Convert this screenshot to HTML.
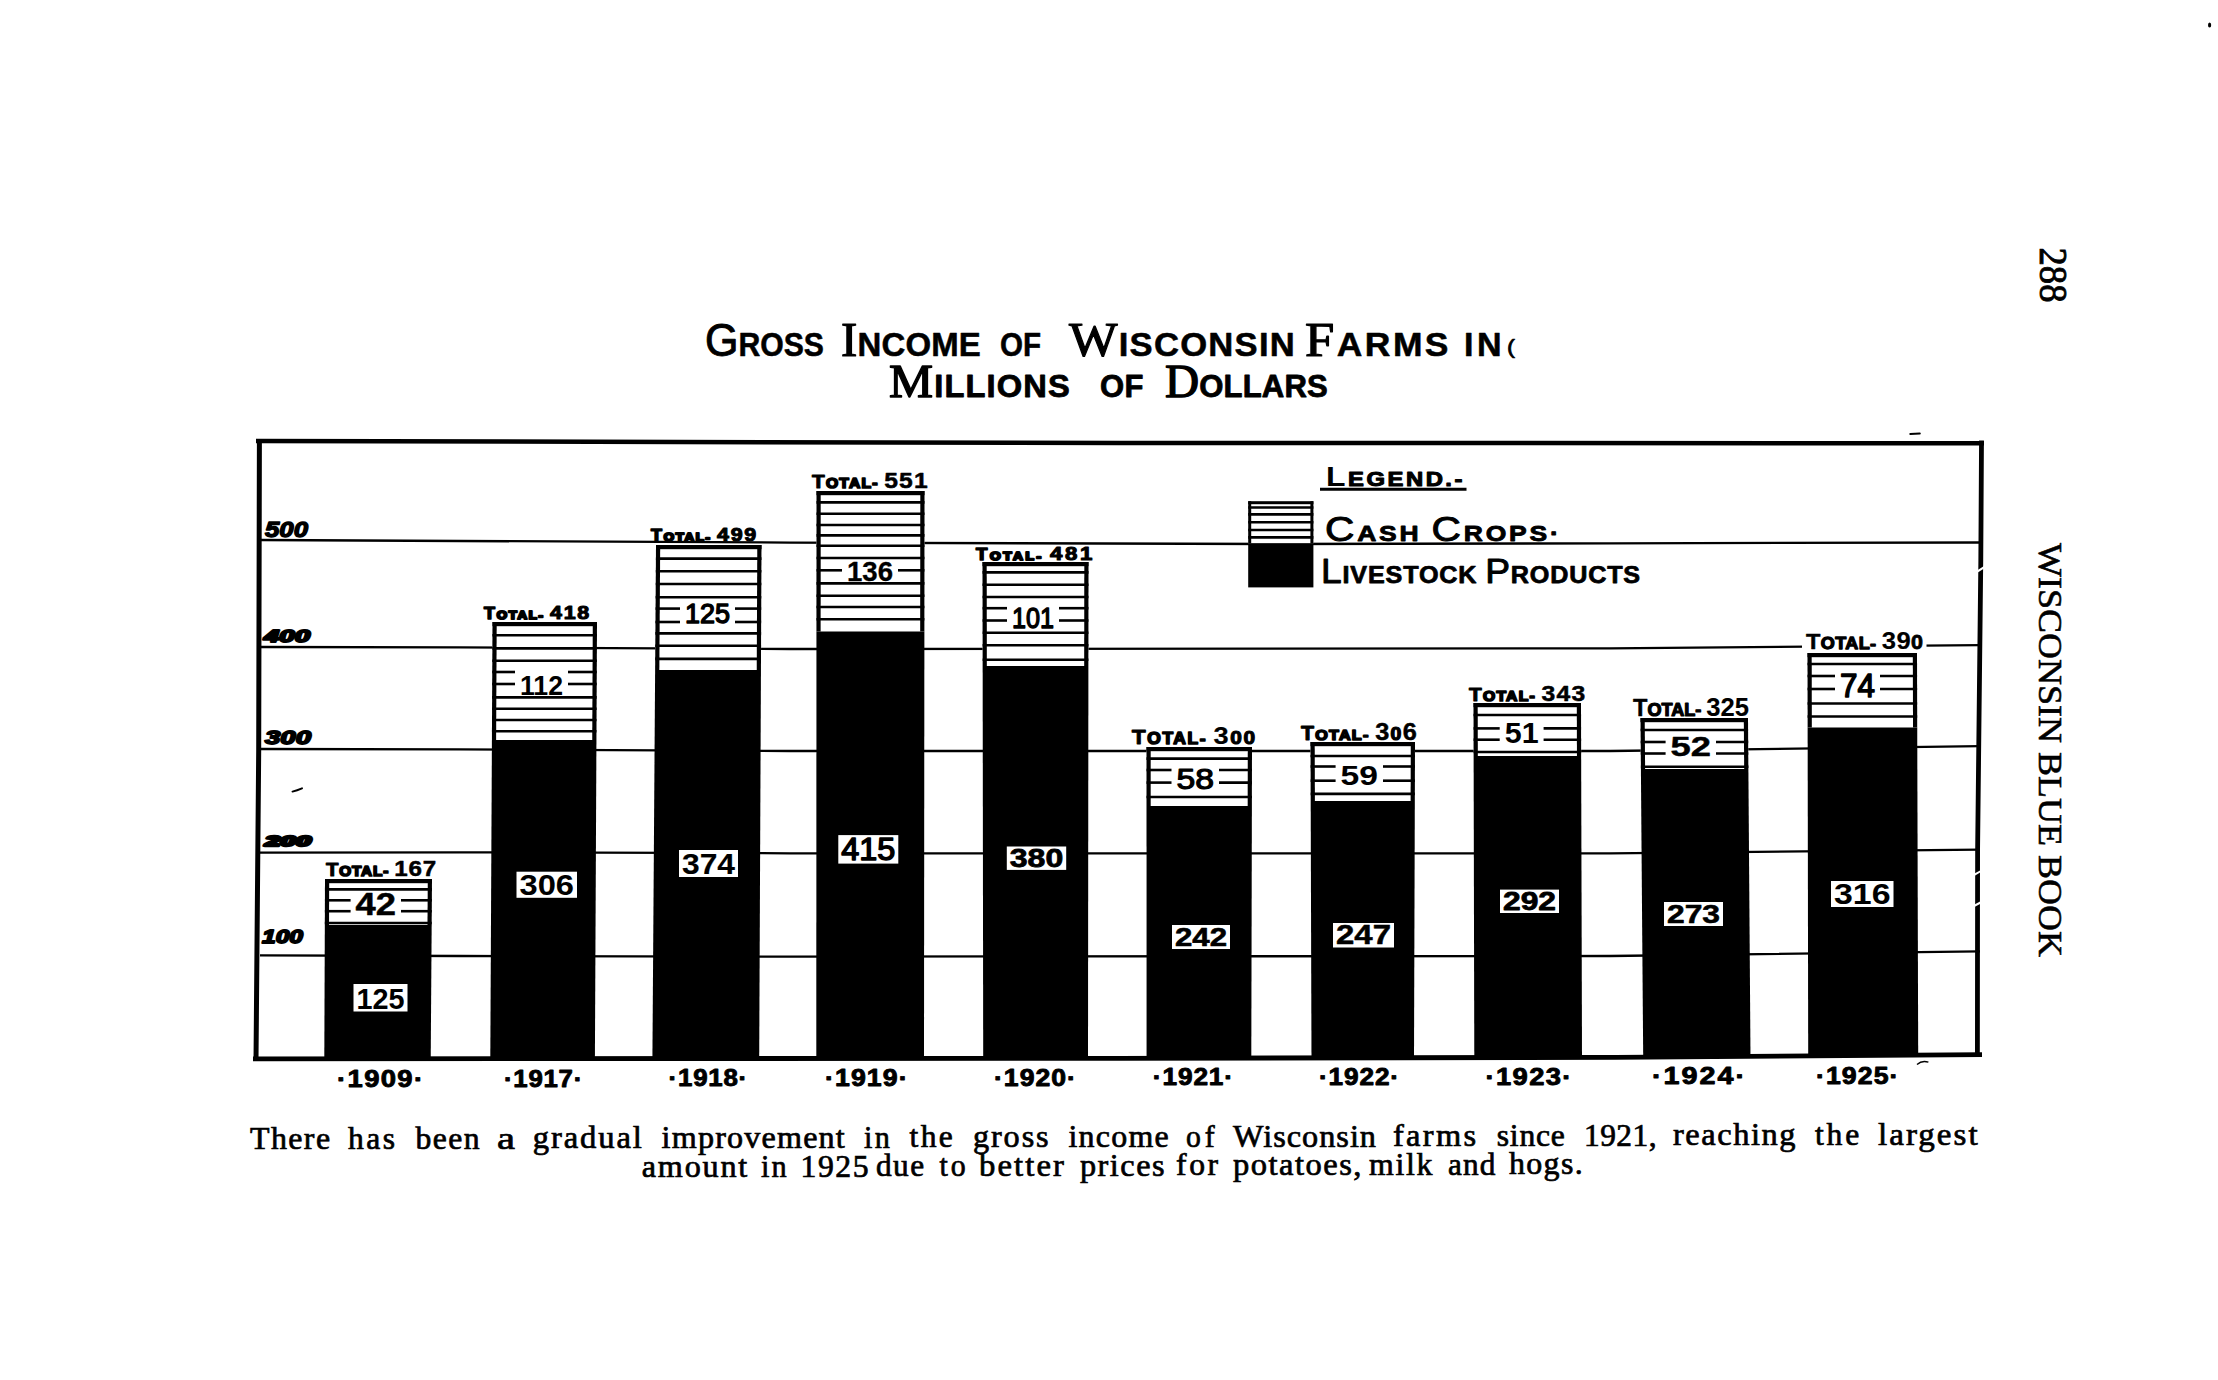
<!DOCTYPE html>
<html><head><meta charset="utf-8"><style>
html,body{margin:0;padding:0;background:#fff;}
body{width:2218px;height:1380px;overflow:hidden;position:relative;}
svg{position:absolute;left:0;top:0;}
</style></head><body>
<svg width="2218" height="1380" viewBox="0 0 2218 1380">
<rect x="0" y="0" width="2218" height="1380" fill="#fff"/>
<text x="1507" y="353.65" font-family='"Liberation Sans", sans-serif' font-style="normal" textLength="8.0" lengthAdjust="spacingAndGlyphs" stroke-linejoin="round" ><tspan font-size="19.33" font-weight="normal" stroke="#000" stroke-width="0.70">(</tspan></text>
<text x="705" y="356.01" font-family='"Liberation Sans", sans-serif' font-style="normal" textLength="119.0" lengthAdjust="spacingAndGlyphs" stroke-linejoin="round" ><tspan font-size="46.56" font-weight="normal" stroke="#000" stroke-width="0.97">G</tspan><tspan font-size="32.66" font-weight="bold" stroke="#000" stroke-width="0.53">ROSS</tspan></text>
<text x="841" y="355.89" font-family='"Liberation Sans", sans-serif' font-style="normal" letter-spacing="0.18" textLength="140.0" lengthAdjust="spacingAndGlyphs" stroke-linejoin="round" ><tspan font-family='"Liberation Serif", serif' font-size="48.52" font-weight="normal" stroke="#000" stroke-width="1.22">I</tspan><tspan font-size="32.66" font-weight="bold" stroke="#000" stroke-width="0.53">NCOME</tspan></text>
<text x="1000" y="356.23" font-family='"Liberation Sans", sans-serif' font-style="normal" textLength="41.0" lengthAdjust="spacingAndGlyphs" stroke-linejoin="round" ><tspan font-size="32.66" font-weight="bold" stroke="#000" stroke-width="0.53">OF</tspan></text>
<text x="1069" y="355.89" font-family='"Liberation Sans", sans-serif' font-style="normal" letter-spacing="1.17" textLength="227.0" lengthAdjust="spacingAndGlyphs" stroke-linejoin="round" ><tspan font-family='"Liberation Serif", serif' font-size="48.52" font-weight="normal" stroke="#000" stroke-width="1.22">W</tspan><tspan font-size="32.66" font-weight="bold" stroke="#000" stroke-width="0.53">ISCONSIN</tspan></text>
<text x="1305" y="355.89" font-family='"Liberation Sans", sans-serif' font-style="normal" letter-spacing="2.28" textLength="146.0" lengthAdjust="spacingAndGlyphs" stroke-linejoin="round" ><tspan font-family='"Liberation Serif", serif' font-size="48.52" font-weight="normal" stroke="#000" stroke-width="1.22">F</tspan><tspan font-size="32.66" font-weight="bold" stroke="#000" stroke-width="0.53">ARMS</tspan></text>
<text x="1464" y="356.23" font-family='"Liberation Sans", sans-serif' font-style="normal" letter-spacing="3.33" textLength="41.0" lengthAdjust="spacingAndGlyphs" stroke-linejoin="round" ><tspan font-size="32.66" font-weight="bold" stroke="#000" stroke-width="0.53">IN</tspan></text>
<text x="889" y="396.81" font-family='"Liberation Sans", sans-serif' font-style="normal" letter-spacing="1.08" textLength="182.0" lengthAdjust="spacingAndGlyphs" stroke-linejoin="round" ><tspan font-family='"Liberation Serif", serif' font-size="46.76" font-weight="normal" stroke="#000" stroke-width="1.37">M</tspan><tspan font-size="30.82" font-weight="bold" stroke="#000" stroke-width="0.80">ILLIONS</tspan></text>
<text x="1100" y="397.10" font-family='"Liberation Sans", sans-serif' font-style="normal" letter-spacing="0.48" textLength="44.0" lengthAdjust="spacingAndGlyphs" stroke-linejoin="round" ><tspan font-size="30.82" font-weight="bold" stroke="#000" stroke-width="0.80">OF</tspan></text>
<text x="1165" y="396.81" font-family='"Liberation Sans", sans-serif' font-style="normal" letter-spacing="0.17" textLength="163.0" lengthAdjust="spacingAndGlyphs" stroke-linejoin="round" ><tspan font-family='"Liberation Serif", serif' font-size="46.76" font-weight="normal" stroke="#000" stroke-width="1.37">D</tspan><tspan font-size="30.82" font-weight="bold" stroke="#000" stroke-width="0.80">OLLARS</tspan></text>
<polyline fill="none" stroke="#000" stroke-width="2.3" points="260,540 790,542.6 1280,544 1610,543.3 1980,542.5"/>
<polyline fill="none" stroke="#000" stroke-width="2.3" points="260,647 460,647.3 790,649 1610,648.4 1980,645.2"/>
<polyline fill="none" stroke="#000" stroke-width="2.3" points="260,749 460,749.3 790,751 1610,751 1980,746.2"/>
<polyline fill="none" stroke="#000" stroke-width="2.3" points="260,852.7 460,852.3 790,853.3 1610,853.3 1980,849.6"/>
<polyline fill="none" stroke="#000" stroke-width="2.3" points="260,955.3 460,956 790,956.6 1610,956 1980,951.3"/>
<text x="265" y="536.92" font-family='"Liberation Sans", sans-serif' font-style="italic" textLength="43.0" lengthAdjust="spacingAndGlyphs" stroke-linejoin="round" ><tspan font-size="22.16" font-weight="bold" stroke="#000" stroke-width="1.36">500</tspan></text>
<text x="264" y="642.47" font-family='"Liberation Sans", sans-serif' font-style="italic" textLength="46.0" lengthAdjust="spacingAndGlyphs" stroke-linejoin="round" ><tspan font-size="17.37" font-weight="bold" stroke="#000" stroke-width="2.06">400</tspan></text>
<text x="265" y="744.10" font-family='"Liberation Sans", sans-serif' font-style="italic" textLength="46.0" lengthAdjust="spacingAndGlyphs" stroke-linejoin="round" ><tspan font-size="19.21" font-weight="bold" stroke="#000" stroke-width="1.79">300</tspan></text>
<text x="265" y="845.77" font-family='"Liberation Sans", sans-serif' font-style="italic" textLength="46.0" lengthAdjust="spacingAndGlyphs" stroke-linejoin="round" ><tspan font-size="14.61" font-weight="bold" stroke="#000" stroke-width="2.47">200</tspan></text>
<text x="262" y="943.10" font-family='"Liberation Sans", sans-serif' font-style="italic" textLength="41.0" lengthAdjust="spacingAndGlyphs" stroke-linejoin="round" ><tspan font-size="19.21" font-weight="bold" stroke="#000" stroke-width="1.79">100</tspan></text>
<polygon fill="#fff" points="325.00,879.00 432.00,879.00 431.67,925.00 324.82,925.00"/>
<polygon fill="#000" points="324.82,925.00 431.67,925.00 430.70,1059.73 324.30,1059.73"/>
<rect x="325" y="879" width="107" height="4.2" fill="#000"/>
<polygon fill="#000" points="325.00,879.00 329.20,879.00 329.02,925.00 324.82,925.00"/>
<polygon fill="#000" points="427.80,879.00 432.00,879.00 431.67,925.00 427.47,925.00"/>
<line x1="324.9597183881509" y1="889.4" x2="431.9251912922803" y2="889.4" stroke="#000" stroke-width="2.6"/>
<line x1="324.8295777960232" y1="923" x2="431.68350162118594" y2="923" stroke="#000" stroke-width="2.6"/>
<line x1="324.9175001603476" y1="900.3" x2="350.6" y2="900.3" stroke="#000" stroke-width="2.6"/>
<line x1="401" y1="900.3" x2="431.8467860120741" y2="900.3" stroke="#000" stroke-width="2.6"/>
<line x1="324.8752819325442" y1="911.2" x2="350.6" y2="911.2" stroke="#000" stroke-width="2.6"/>
<line x1="401" y1="911.2" x2="431.76838073186786" y2="911.2" stroke="#000" stroke-width="2.6"/>
<text x="355.6" y="915.15" font-family='"Liberation Sans", sans-serif' font-style="normal" textLength="40.4" lengthAdjust="spacingAndGlyphs" stroke-linejoin="round" ><tspan font-size="30.82" font-weight="bold" stroke="#000" stroke-width="0.50">42</tspan></text>
<text x="326" y="876.14" font-family='"Liberation Sans", sans-serif' font-style="normal" letter-spacing="0.79" textLength="111.0" lengthAdjust="spacingAndGlyphs" stroke-linejoin="round" ><tspan font-size="18.98" font-weight="bold" stroke="#000" stroke-width="1.03">T</tspan><tspan font-size="14.27" font-weight="bold" stroke="#000" stroke-width="1.72">OTAL</tspan><tspan font-size="14.27" font-weight="bold" stroke="#000" stroke-width="1.72">- </tspan><tspan font-size="22.52" font-weight="bold" stroke="#000" stroke-width="0.51">1</tspan><tspan font-size="22.52" font-weight="bold" stroke="#000" stroke-width="0.51">6</tspan><tspan font-size="22.52" font-weight="bold" stroke="#000" stroke-width="0.51">7</tspan></text>
<rect x="353.5" y="984" width="54.0" height="27.5" fill="#fff"/>
<text x="356.5" y="1008.68" font-family='"Liberation Sans", sans-serif' font-style="normal" textLength="48.0" lengthAdjust="spacingAndGlyphs" stroke-linejoin="round" ><tspan font-size="29.90" font-weight="bold" stroke="#000" stroke-width="0.04">125</tspan></text>
<polygon fill="#fff" points="492.50,622.00 597.00,622.00 596.43,740.00 491.91,740.00"/>
<polygon fill="#000" points="491.91,740.00 596.43,740.00 594.90,1059.63 490.30,1059.63"/>
<rect x="492.5" y="622" width="104.5" height="4.2" fill="#000"/>
<polygon fill="#000" points="492.50,622.00 496.70,622.00 496.11,740.00 491.91,740.00"/>
<polygon fill="#000" points="592.80,622.00 597.00,622.00 596.43,740.00 592.23,740.00"/>
<line x1="492.4336428397341" y1="635.2" x2="596.9366590742916" y2="635.2" stroke="#000" stroke-width="2.6"/>
<line x1="492.3672856794681" y1="648.4" x2="596.8733181485833" y2="648.4" stroke="#000" stroke-width="2.6"/>
<line x1="492.30545287103854" y1="660.7" x2="596.814295922355" y2="660.7" stroke="#000" stroke-width="2.6"/>
<line x1="492.1209598572689" y1="697.4" x2="596.6381889546658" y2="697.4" stroke="#000" stroke-width="2.6"/>
<line x1="492.0641541064352" y1="708.7" x2="596.5839652834154" y2="708.7" stroke="#000" stroke-width="2.6"/>
<line x1="492.0073483556015" y1="720" x2="596.529741612165" y2="720" stroke="#000" stroke-width="2.6"/>
<line x1="491.95054260476775" y1="731.3" x2="596.4755179409146" y2="731.3" stroke="#000" stroke-width="2.6"/>
<line x1="492.24864712020485" y1="672" x2="515" y2="672" stroke="#000" stroke-width="2.6"/>
<line x1="568" y1="672" x2="596.7600722511046" y2="672" stroke="#000" stroke-width="2.6"/>
<line x1="492.188322429054" y1="684" x2="515" y2="684" stroke="#000" stroke-width="2.6"/>
<line x1="568" y1="684" x2="596.7024895913697" y2="684" stroke="#000" stroke-width="2.6"/>
<text x="520" y="694.98" font-family='"Liberation Sans", sans-serif' font-style="normal" textLength="43.0" lengthAdjust="spacingAndGlyphs" stroke-linejoin="round" ><tspan font-size="28.54" font-weight="bold" stroke="#000" stroke-width="0.03">112</tspan></text>
<text x="484" y="618.95" font-family='"Liberation Sans", sans-serif' font-style="normal" letter-spacing="1.51" textLength="107.0" lengthAdjust="spacingAndGlyphs" stroke-linejoin="round" ><tspan font-size="15.74" font-weight="bold" stroke="#000" stroke-width="1.50">T</tspan><tspan font-size="11.62" font-weight="bold" stroke="#000" stroke-width="2.10">OTAL</tspan><tspan font-size="11.62" font-weight="bold" stroke="#000" stroke-width="2.10">- </tspan><tspan font-size="18.83" font-weight="bold" stroke="#000" stroke-width="1.05">4</tspan><tspan font-size="18.83" font-weight="bold" stroke="#000" stroke-width="1.05">1</tspan><tspan font-size="18.83" font-weight="bold" stroke="#000" stroke-width="1.05">8</tspan></text>
<rect x="516.5" y="871.7" width="60.5" height="26.09999999999991" fill="#fff"/>
<text x="519.5" y="894.98" font-family='"Liberation Sans", sans-serif' font-style="normal" textLength="54.5" lengthAdjust="spacingAndGlyphs" stroke-linejoin="round" ><tspan font-size="29.89" font-weight="bold" stroke="#000" stroke-width="0.04">306</tspan></text>
<polygon fill="#fff" points="656.00,545.00 761.50,545.00 760.94,670.00 655.13,670.00"/>
<polygon fill="#000" points="655.13,670.00 760.94,670.00 759.20,1059.54 652.40,1059.54"/>
<rect x="656" y="545" width="105.5" height="4.2" fill="#000"/>
<polygon fill="#000" points="656.00,545.00 660.20,545.00 659.33,670.00 655.13,670.00"/>
<polygon fill="#000" points="757.30,545.00 761.50,545.00 760.94,670.00 756.74,670.00"/>
<line x1="655.9048465242024" y1="558.6" x2="761.4392075015737" y2="558.6" stroke="#000" stroke-width="2.6"/>
<line x1="655.8159899695974" y1="571.3" x2="761.3824380361316" y2="571.3" stroke="#000" stroke-width="2.6"/>
<line x1="655.7271334149922" y1="584" x2="761.3256685706895" y2="584" stroke="#000" stroke-width="2.6"/>
<line x1="655.6340789129255" y1="597.3" x2="761.266217083258" y2="597.3" stroke="#000" stroke-width="2.6"/>
<line x1="655.3815024073157" y1="633.4" x2="761.1048487602295" y2="633.4" stroke="#000" stroke-width="2.6"/>
<line x1="655.2954444843517" y1="645.7" x2="761.0498673094469" y2="645.7" stroke="#000" stroke-width="2.6"/>
<line x1="655.2030896401952" y1="658.9" x2="760.9908628256803" y2="658.9" stroke="#000" stroke-width="2.6"/>
<line x1="655.5550175690643" y1="608.6" x2="680" y2="608.6" stroke="#000" stroke-width="2.6"/>
<line x1="735" y1="608.6" x2="761.2157056691244" y2="608.6" stroke="#000" stroke-width="2.6"/>
<line x1="655.4612634090872" y1="622" x2="680" y2="622" stroke="#000" stroke-width="2.6"/>
<line x1="735" y1="622" x2="761.1558071780279" y2="622" stroke="#000" stroke-width="2.6"/>
<text x="685" y="623.31" font-family='"Liberation Sans", sans-serif' font-style="normal" textLength="45.0" lengthAdjust="spacingAndGlyphs" stroke-linejoin="round" ><tspan font-size="27.06" font-weight="normal" stroke="#000" stroke-width="1.38">125</tspan></text>
<text x="651" y="540.95" font-family='"Liberation Sans", sans-serif' font-style="normal" letter-spacing="1.51" textLength="107.0" lengthAdjust="spacingAndGlyphs" stroke-linejoin="round" ><tspan font-size="15.74" font-weight="bold" stroke="#000" stroke-width="1.50">T</tspan><tspan font-size="11.62" font-weight="bold" stroke="#000" stroke-width="2.10">OTAL</tspan><tspan font-size="11.62" font-weight="bold" stroke="#000" stroke-width="2.10">- </tspan><tspan font-size="18.83" font-weight="bold" stroke="#000" stroke-width="1.05">4</tspan><tspan font-size="18.83" font-weight="bold" stroke="#000" stroke-width="1.05">9</tspan><tspan font-size="18.83" font-weight="bold" stroke="#000" stroke-width="1.05">9</tspan></text>
<rect x="679" y="850" width="59" height="27" fill="#fff"/>
<text x="682" y="874.12" font-family='"Liberation Sans", sans-serif' font-style="normal" textLength="53.0" lengthAdjust="spacingAndGlyphs" stroke-linejoin="round" ><tspan font-size="29.05" font-weight="bold" stroke="#000" stroke-width="0.16">374</tspan></text>
<polygon fill="#fff" points="816.50,491.00 924.50,491.00 924.38,631.50 816.45,631.50"/>
<polygon fill="#000" points="816.45,631.50 924.38,631.50 924.00,1059.44 816.30,1059.44"/>
<rect x="816.5" y="491" width="108.0" height="4.2" fill="#000"/>
<polygon fill="#000" points="816.50,491.00 820.70,491.00 820.65,631.50 816.45,631.50"/>
<polygon fill="#000" points="920.30,491.00 924.50,491.00 924.38,631.50 920.18,631.50"/>
<line x1="816.4959890500148" y1="502.4" x2="924.489972625037" y2="502.4" stroke="#000" stroke-width="2.6"/>
<line x1="816.4920132838015" y1="513.7" x2="924.4800332095036" y2="513.7" stroke="#000" stroke-width="2.6"/>
<line x1="816.488037517588" y1="525" x2="924.4700937939702" y2="525" stroke="#000" stroke-width="2.6"/>
<line x1="816.4843784053209" y1="535.4" x2="924.4609460133023" y2="535.4" stroke="#000" stroke-width="2.6"/>
<line x1="816.4807192930538" y1="545.8" x2="924.4517982326344" y2="545.8" stroke="#000" stroke-width="2.6"/>
<line x1="816.4764268728942" y1="558" x2="924.4410671822354" y2="558" stroke="#000" stroke-width="2.6"/>
<line x1="816.467490194857" y1="583.4" x2="924.4187254871425" y2="583.4" stroke="#000" stroke-width="2.6"/>
<line x1="816.4631625909257" y1="595.7" x2="924.4079064773141" y2="595.7" stroke="#000" stroke-width="2.6"/>
<line x1="816.4591868247122" y1="607" x2="924.3979670617807" y2="607" stroke="#000" stroke-width="2.6"/>
<line x1="816.4548592207809" y1="619.3" x2="924.3871480519523" y2="619.3" stroke="#000" stroke-width="2.6"/>
<line x1="816.4720992689628" y1="570.3" x2="842" y2="570.3" stroke="#000" stroke-width="2.6"/>
<line x1="898" y1="570.3" x2="924.430248172407" y2="570.3" stroke="#000" stroke-width="2.6"/>
<text x="847" y="581.33" font-family='"Liberation Sans", sans-serif' font-style="normal" textLength="46.0" lengthAdjust="spacingAndGlyphs" stroke-linejoin="round" ><tspan font-size="27.86" font-weight="bold" stroke="#000" stroke-width="0.33">136</tspan></text>
<text x="812" y="488.14" font-family='"Liberation Sans", sans-serif' font-style="normal" letter-spacing="1.13" textLength="117.0" lengthAdjust="spacingAndGlyphs" stroke-linejoin="round" ><tspan font-size="18.98" font-weight="bold" stroke="#000" stroke-width="1.03">T</tspan><tspan font-size="14.27" font-weight="bold" stroke="#000" stroke-width="1.72">OTAL</tspan><tspan font-size="14.27" font-weight="bold" stroke="#000" stroke-width="1.72">- </tspan><tspan font-size="22.52" font-weight="bold" stroke="#000" stroke-width="0.51">5</tspan><tspan font-size="22.52" font-weight="bold" stroke="#000" stroke-width="0.51">5</tspan><tspan font-size="22.52" font-weight="bold" stroke="#000" stroke-width="0.51">1</tspan></text>
<rect x="838.3" y="835.1" width="60.0" height="28.5" fill="#fff"/>
<text x="841.3" y="860.05" font-family='"Liberation Sans", sans-serif' font-style="normal" textLength="54.0" lengthAdjust="spacingAndGlyphs" stroke-linejoin="round" ><tspan font-size="31.27" font-weight="normal" stroke="#000" stroke-width="1.49">415</tspan></text>
<polygon fill="#fff" points="982.50,562.00 1088.50,562.00 1088.40,666.00 982.65,666.00"/>
<polygon fill="#000" points="982.65,666.00 1088.40,666.00 1088.00,1059.35 983.20,1059.35"/>
<rect x="982.5" y="562" width="106.0" height="4.2" fill="#000"/>
<polygon fill="#000" points="982.50,562.00 986.70,562.00 986.85,666.00 982.65,666.00"/>
<polygon fill="#000" points="1084.30,562.00 1088.50,562.00 1088.40,666.00 1084.20,666.00"/>
<line x1="982.5146376165103" y1="572.4" x2="1088.4895445596355" y2="572.4" stroke="#000" stroke-width="2.6"/>
<line x1="982.5319494129599" y1="584.7" x2="1088.477178990743" y2="584.7" stroke="#000" stroke-width="2.6"/>
<line x1="982.5492612094095" y1="597" x2="1088.4648134218503" y2="597" stroke="#000" stroke-width="2.6"/>
<line x1="982.5995076430072" y1="632.7" x2="1088.4289231121377" y2="632.7" stroke="#000" stroke-width="2.6"/>
<line x1="982.6172416783945" y1="645.3" x2="1088.416255944004" y2="645.3" stroke="#000" stroke-width="2.6"/>
<line x1="982.6375091474088" y1="659.7" x2="1088.4017791804224" y2="659.7" stroke="#000" stroke-width="2.6"/>
<line x1="982.5650247964205" y1="608.2" x2="1007" y2="608.2" stroke="#000" stroke-width="2.6"/>
<line x1="1059" y1="608.2" x2="1088.4535537168424" y2="608.2" stroke="#000" stroke-width="2.6"/>
<line x1="982.5823365928701" y1="620.5" x2="1007" y2="620.5" stroke="#000" stroke-width="2.6"/>
<line x1="1059" y1="620.5" x2="1088.44118814795" y2="620.5" stroke="#000" stroke-width="2.6"/>
<text x="1012" y="628.33" font-family='"Liberation Sans", sans-serif' font-style="normal" textLength="42.0" lengthAdjust="spacingAndGlyphs" stroke-linejoin="round" ><tspan font-size="28.58" font-weight="normal" stroke="#000" stroke-width="1.34">101</tspan></text>
<text x="976" y="559.95" font-family='"Liberation Sans", sans-serif' font-style="normal" letter-spacing="2.18" textLength="119.0" lengthAdjust="spacingAndGlyphs" stroke-linejoin="round" ><tspan font-size="15.74" font-weight="bold" stroke="#000" stroke-width="1.50">T</tspan><tspan font-size="11.62" font-weight="bold" stroke="#000" stroke-width="2.10">OTAL</tspan><tspan font-size="11.62" font-weight="bold" stroke="#000" stroke-width="2.10">- </tspan><tspan font-size="18.83" font-weight="bold" stroke="#000" stroke-width="1.05">4</tspan><tspan font-size="18.83" font-weight="bold" stroke="#000" stroke-width="1.05">8</tspan><tspan font-size="18.83" font-weight="bold" stroke="#000" stroke-width="1.05">1</tspan></text>
<rect x="1006.8" y="846.5" width="59.40000000000009" height="23.399999999999977" fill="#fff"/>
<text x="1009.8" y="866.72" font-family='"Liberation Sans", sans-serif' font-style="normal" textLength="53.4" lengthAdjust="spacingAndGlyphs" stroke-linejoin="round" ><tspan font-size="24.92" font-weight="bold" stroke="#000" stroke-width="0.76">380</tspan></text>
<polygon fill="#fff" points="1146.50,747.00 1252.00,747.00 1251.87,806.00 1146.52,806.00"/>
<polygon fill="#000" points="1146.52,806.00 1251.87,806.00 1251.30,1059.14 1146.60,1059.14"/>
<rect x="1146.5" y="747" width="105.5" height="4.2" fill="#000"/>
<polygon fill="#000" points="1146.50,747.00 1150.70,747.00 1150.72,806.00 1146.52,806.00"/>
<polygon fill="#000" points="1247.80,747.00 1252.00,747.00 1251.87,806.00 1247.67,806.00"/>
<line x1="1146.5037162823585" y1="758.6" x2="1251.9739860234904" y2="758.6" stroke="#000" stroke-width="2.6"/>
<line x1="1146.5160184584417" y1="797" x2="1251.8878707909073" y2="797" stroke="#000" stroke-width="2.6"/>
<line x1="1146.5073684908832" y1="770" x2="1171.5" y2="770" stroke="#000" stroke-width="2.6"/>
<line x1="1219" y1="770" x2="1251.9484205638173" y2="770" stroke="#000" stroke-width="2.6"/>
<line x1="1146.5114051424105" y1="782.6" x2="1171.5" y2="782.6" stroke="#000" stroke-width="2.6"/>
<line x1="1219" y1="782.6" x2="1251.920164003126" y2="782.6" stroke="#000" stroke-width="2.6"/>
<text x="1176.5" y="789.41" font-family='"Liberation Sans", sans-serif' font-style="normal" textLength="37.5" lengthAdjust="spacingAndGlyphs" stroke-linejoin="round" ><tspan font-size="30.26" font-weight="normal" stroke="#000" stroke-width="1.19">58</tspan></text>
<text x="1131.7" y="744.24" font-family='"Liberation Sans", sans-serif' font-style="normal" letter-spacing="1.44" textLength="124.9" lengthAdjust="spacingAndGlyphs" stroke-linejoin="round" ><tspan font-size="20.60" font-weight="bold" stroke="#000" stroke-width="0.79">T</tspan><tspan font-size="15.59" font-weight="bold" stroke="#000" stroke-width="1.52">OTAL</tspan><tspan font-size="15.59" font-weight="bold" stroke="#000" stroke-width="1.52">- </tspan><tspan font-size="24.36" font-weight="bold" stroke="#000" stroke-width="0.24">3</tspan><tspan font-size="18.72" font-weight="bold" stroke="#000" stroke-width="1.07">0</tspan><tspan font-size="18.72" font-weight="bold" stroke="#000" stroke-width="1.07">0</tspan></text>
<rect x="1172" y="925" width="58" height="24" fill="#fff"/>
<text x="1175" y="945.90" font-family='"Liberation Sans", sans-serif' font-style="normal" textLength="52.0" lengthAdjust="spacingAndGlyphs" stroke-linejoin="round" ><tspan font-size="26.02" font-weight="bold" stroke="#000" stroke-width="0.60">242</tspan></text>
<polygon fill="#fff" points="1310.50,742.00 1415.00,742.00 1414.81,801.00 1310.69,801.00"/>
<polygon fill="#000" points="1310.69,801.00 1414.81,801.00 1414.00,1058.81 1311.50,1058.81"/>
<rect x="1310.5" y="742" width="104.5" height="4.2" fill="#000"/>
<polygon fill="#000" points="1310.50,742.00 1314.70,742.00 1314.89,801.00 1310.69,801.00"/>
<polygon fill="#000" points="1410.80,742.00 1415.00,742.00 1414.81,801.00 1410.61,801.00"/>
<line x1="1310.544190580647" y1="756" x2="1414.955809419353" y2="756" stroke="#000" stroke-width="2.6"/>
<line x1="1310.6638207953986" y1="793.9" x2="1414.8361792046014" y2="793.9" stroke="#000" stroke-width="2.6"/>
<line x1="1310.5773335161323" y1="766.5" x2="1335.6" y2="766.5" stroke="#000" stroke-width="2.6"/>
<line x1="1383" y1="766.5" x2="1414.9226664838677" y2="766.5" stroke="#000" stroke-width="2.6"/>
<line x1="1310.6221553907885" y1="780.7" x2="1335.6" y2="780.7" stroke="#000" stroke-width="2.6"/>
<line x1="1383" y1="780.7" x2="1414.8778446092115" y2="780.7" stroke="#000" stroke-width="2.6"/>
<text x="1340.6" y="785.36" font-family='"Liberation Sans", sans-serif' font-style="normal" textLength="37.4" lengthAdjust="spacingAndGlyphs" stroke-linejoin="round" ><tspan font-size="26.84" font-weight="bold" stroke="#000" stroke-width="0.08">59</tspan></text>
<text x="1301" y="740.17" font-family='"Liberation Sans", sans-serif' font-style="normal" letter-spacing="1.15" textLength="117.0" lengthAdjust="spacingAndGlyphs" stroke-linejoin="round" ><tspan font-size="19.47" font-weight="bold" stroke="#000" stroke-width="0.96">T</tspan><tspan font-size="14.67" font-weight="bold" stroke="#000" stroke-width="1.66">OTAL</tspan><tspan font-size="14.67" font-weight="bold" stroke="#000" stroke-width="1.66">- </tspan><tspan font-size="23.07" font-weight="bold" stroke="#000" stroke-width="0.43">3</tspan><tspan font-size="17.67" font-weight="bold" stroke="#000" stroke-width="1.22">0</tspan><tspan font-size="23.07" font-weight="bold" stroke="#000" stroke-width="0.43">6</tspan></text>
<rect x="1333" y="923" width="61" height="24.5" fill="#fff"/>
<text x="1336" y="944.47" font-family='"Liberation Sans", sans-serif' font-style="normal" textLength="55.0" lengthAdjust="spacingAndGlyphs" stroke-linejoin="round" ><tspan font-size="26.94" font-weight="bold" stroke="#000" stroke-width="0.47">247</tspan></text>
<polygon fill="#fff" points="1473.50,703.00 1581.00,703.00 1581.15,756.00 1473.62,756.00"/>
<polygon fill="#000" points="1473.62,756.00 1581.15,756.00 1582.00,1058.48 1474.30,1058.48"/>
<rect x="1473.5" y="703" width="107.5" height="4.2" fill="#000"/>
<polygon fill="#000" points="1473.50,703.00 1477.70,703.00 1477.82,756.00 1473.62,756.00"/>
<polygon fill="#000" points="1576.80,703.00 1581.00,703.00 1581.15,756.00 1576.95,756.00"/>
<line x1="1473.5270059459115" y1="715" x2="1581.0337574323892" y2="715" stroke="#000" stroke-width="2.6"/>
<line x1="1473.6102742791381" y1="752" x2="1581.1378428489227" y2="752" stroke="#000" stroke-width="2.6"/>
<line x1="1473.5571625855125" y1="728.4" x2="1499.7" y2="728.4" stroke="#000" stroke-width="2.6"/>
<line x1="1543.6" y1="728.4" x2="1581.0714532318905" y2="728.4" stroke="#000" stroke-width="2.6"/>
<line x1="1473.582593184579" y1="739.7" x2="1499.7" y2="739.7" stroke="#000" stroke-width="2.6"/>
<line x1="1543.6" y1="739.7" x2="1581.1032414807237" y2="739.7" stroke="#000" stroke-width="2.6"/>
<text x="1504.7" y="742.59" font-family='"Liberation Sans", sans-serif' font-style="normal" textLength="33.9" lengthAdjust="spacingAndGlyphs" stroke-linejoin="round" ><tspan font-size="28.68" font-weight="bold" stroke="#000" stroke-width="0.01">51</tspan></text>
<text x="1469" y="701.14" font-family='"Liberation Sans", sans-serif' font-style="normal" letter-spacing="1.16" textLength="117.6" lengthAdjust="spacingAndGlyphs" stroke-linejoin="round" ><tspan font-size="18.98" font-weight="bold" stroke="#000" stroke-width="1.03">T</tspan><tspan font-size="14.27" font-weight="bold" stroke="#000" stroke-width="1.72">OTAL</tspan><tspan font-size="14.27" font-weight="bold" stroke="#000" stroke-width="1.72">- </tspan><tspan font-size="22.52" font-weight="bold" stroke="#000" stroke-width="0.51">3</tspan><tspan font-size="22.52" font-weight="bold" stroke="#000" stroke-width="0.51">4</tspan><tspan font-size="22.52" font-weight="bold" stroke="#000" stroke-width="0.51">3</tspan></text>
<rect x="1500" y="889.6" width="59" height="23.399999999999977" fill="#fff"/>
<text x="1503" y="909.82" font-family='"Liberation Sans", sans-serif' font-style="normal" textLength="53.0" lengthAdjust="spacingAndGlyphs" stroke-linejoin="round" ><tspan font-size="24.92" font-weight="bold" stroke="#000" stroke-width="0.76">292</tspan></text>
<polygon fill="#fff" points="1640.50,718.00 1748.00,718.00 1748.38,769.00 1640.91,769.00"/>
<polygon fill="#000" points="1640.91,769.00 1748.38,769.00 1750.50,1057.72 1643.20,1057.72"/>
<rect x="1640.5" y="718" width="107.5" height="4.2" fill="#000"/>
<polygon fill="#000" points="1640.50,718.00 1644.70,718.00 1645.11,769.00 1640.91,769.00"/>
<polygon fill="#000" points="1743.80,718.00 1748.00,718.00 1748.38,769.00 1744.18,769.00"/>
<line x1="1640.5953735127716" y1="730" x2="1748.0883088081218" y2="730" stroke="#000" stroke-width="2.6"/>
<line x1="1640.887057505998" y1="766.7" x2="1748.358386579628" y2="766.7" stroke="#000" stroke-width="2.6"/>
<line x1="1640.6907470255433" y1="742" x2="1665.6" y2="742" stroke="#000" stroke-width="2.6"/>
<line x1="1716" y1="742" x2="1748.1766176162437" y2="742" stroke="#000" stroke-width="2.6"/>
<line x1="1640.7821466419493" y1="753.5" x2="1665.6" y2="753.5" stroke="#000" stroke-width="2.6"/>
<line x1="1716" y1="753.5" x2="1748.2612468906939" y2="753.5" stroke="#000" stroke-width="2.6"/>
<text x="1670.6" y="755.77" font-family='"Liberation Sans", sans-serif' font-style="normal" textLength="40.4" lengthAdjust="spacingAndGlyphs" stroke-linejoin="round" ><tspan font-size="27.68" font-weight="bold" stroke="#000" stroke-width="0.46">52</tspan></text>
<text x="1633" y="716.10" font-family='"Liberation Sans", sans-serif' font-style="normal" letter-spacing="0.00" textLength="116.0" lengthAdjust="spacingAndGlyphs" stroke-linejoin="round" ><tspan font-size="23.36" font-weight="bold" stroke="#000" stroke-width="0.39">T</tspan><tspan font-size="17.85" font-weight="bold" stroke="#000" stroke-width="1.19">OTAL</tspan><tspan font-size="17.85" font-weight="bold" stroke="#000" stroke-width="1.19">- </tspan><tspan font-size="25.31" font-weight="bold" stroke="#000" stroke-width="0.10">3</tspan><tspan font-size="25.31" font-weight="bold" stroke="#000" stroke-width="0.10">2</tspan><tspan font-size="25.31" font-weight="bold" stroke="#000" stroke-width="0.10">5</tspan></text>
<rect x="1664" y="902" width="59" height="24" fill="#fff"/>
<text x="1667" y="922.90" font-family='"Liberation Sans", sans-serif' font-style="normal" textLength="53.0" lengthAdjust="spacingAndGlyphs" stroke-linejoin="round" ><tspan font-size="26.02" font-weight="bold" stroke="#000" stroke-width="0.60">273</tspan></text>
<polygon fill="#fff" points="1807.50,653.00 1917.00,653.00 1917.22,727.50 1807.63,727.50"/>
<polygon fill="#000" points="1807.63,727.50 1917.22,727.50 1918.20,1056.48 1808.20,1056.48"/>
<rect x="1807.5" y="653" width="109.5" height="4.2" fill="#000"/>
<polygon fill="#000" points="1807.50,653.00 1811.70,653.00 1811.83,727.50 1807.63,727.50"/>
<polygon fill="#000" points="1912.80,653.00 1917.00,653.00 1917.22,727.50 1913.02,727.50"/>
<line x1="1807.5190839224251" y1="664" x2="1917.0327152955858" y2="664" stroke="#000" stroke-width="2.6"/>
<line x1="1807.5876125529517" y1="703.5" x2="1917.150192947917" y2="703.5" stroke="#000" stroke-width="2.6"/>
<line x1="1807.610166279454" y1="716.5" x2="1917.188856479064" y2="716.5" stroke="#000" stroke-width="2.6"/>
<line x1="1807.5399027468889" y1="676" x2="1835" y2="676" stroke="#000" stroke-width="2.6"/>
<line x1="1880" y1="676" x2="1917.0684047089524" y2="676" stroke="#000" stroke-width="2.6"/>
<line x1="1807.5624564733912" y1="689" x2="1835" y2="689" stroke="#000" stroke-width="2.6"/>
<line x1="1880" y1="689" x2="1917.1070682400991" y2="689" stroke="#000" stroke-width="2.6"/>
<text x="1840" y="697.26" font-family='"Liberation Sans", sans-serif' font-style="normal" textLength="35.0" lengthAdjust="spacingAndGlyphs" stroke-linejoin="round" ><tspan font-size="33.45" font-weight="normal" stroke="#000" stroke-width="1.49">74</tspan></text>
<rect x="1802" y="641" width="124.5" height="9" fill="#fff"/>
<text x="1806" y="649.36" font-family='"Liberation Sans", sans-serif' font-style="normal" letter-spacing="0.39" textLength="117.5" lengthAdjust="spacingAndGlyphs" stroke-linejoin="round" ><tspan font-size="22.71" font-weight="bold" stroke="#000" stroke-width="0.48">T</tspan><tspan font-size="17.32" font-weight="bold" stroke="#000" stroke-width="1.27">OTAL</tspan><tspan font-size="17.32" font-weight="bold" stroke="#000" stroke-width="1.27">- </tspan><tspan font-size="24.63" font-weight="bold" stroke="#000" stroke-width="0.20">3</tspan><tspan font-size="24.63" font-weight="bold" stroke="#000" stroke-width="0.20">9</tspan><tspan font-size="20.69" font-weight="bold" stroke="#000" stroke-width="0.78">0</tspan></text>
<rect x="1831" y="881" width="62.5" height="26" fill="#fff"/>
<text x="1834" y="904.17" font-family='"Liberation Sans", sans-serif' font-style="normal" textLength="56.5" lengthAdjust="spacingAndGlyphs" stroke-linejoin="round" ><tspan font-size="29.71" font-weight="bold" stroke="#000" stroke-width="0.06">316</tspan></text>
<polyline fill="none" stroke="#000" stroke-width="4.5" points="256,441 1120,443 1984,443.2"/>
<polyline fill="none" stroke="#000" stroke-width="5" points="259.4,439 258.7,750 256,1061"/>
<polyline fill="none" stroke="#000" stroke-width="4.8" points="1981.5,440.5 1980.8,560 1977.6,850 1977.4,1057"/>
<polyline fill="none" stroke="#000" stroke-width="4.8" points="253,1058.8 1120,1058.3 1615,1057.3 1982,1054.6"/>
<polygon fill="#fff" points="1977,570.5 1984,566 1984,568.5 1977,573"/>
<polygon fill="#fff" points="1973.5,874 1981,870 1981,872 1973.5,876.5"/>
<polygon fill="#fff" points="1973.5,905 1981,901 1981,903.5 1973.5,907.5"/>
<ellipse cx="2209.6" cy="25" rx="1.6" ry="2.6" fill="#000"/>
<path d="M292.5,791.6 Q297,790.5 302,788.4" stroke="#000" stroke-width="2" fill="none" stroke-linecap="round"/>
<path d="M1917,1064.5 Q1922,1060 1928.4,1062.2" stroke="#000" stroke-width="1.4" fill="none"/>
<path d="M1910.3,434 L1919.8,433.6" stroke="#000" stroke-width="2" fill="none" stroke-linecap="round"/>
<text x="337" y="1087.06" font-family='"Liberation Sans", sans-serif' font-style="normal" letter-spacing="1.18" textLength="87.5" lengthAdjust="spacingAndGlyphs" stroke-linejoin="round" ><tspan font-size="23.44" font-weight="bold" stroke="#000" stroke-width="0.88">·</tspan><tspan font-size="23.44" font-weight="bold" stroke="#000" stroke-width="0.88">1909</tspan><tspan font-size="23.44" font-weight="bold" stroke="#000" stroke-width="0.88">·</tspan></text>
<text x="504" y="1086.73" font-family='"Liberation Sans", sans-serif' font-style="normal" letter-spacing="0.67" textLength="79.0" lengthAdjust="spacingAndGlyphs" stroke-linejoin="round" ><tspan font-size="23.44" font-weight="bold" stroke="#000" stroke-width="0.88">·</tspan><tspan font-size="23.44" font-weight="bold" stroke="#000" stroke-width="0.88">1917</tspan><tspan font-size="23.44" font-weight="bold" stroke="#000" stroke-width="0.88">·</tspan></text>
<text x="668.6" y="1086.39" font-family='"Liberation Sans", sans-serif' font-style="normal" letter-spacing="0.70" textLength="79.4" lengthAdjust="spacingAndGlyphs" stroke-linejoin="round" ><tspan font-size="23.44" font-weight="bold" stroke="#000" stroke-width="0.88">·</tspan><tspan font-size="23.44" font-weight="bold" stroke="#000" stroke-width="0.88">1918</tspan><tspan font-size="23.44" font-weight="bold" stroke="#000" stroke-width="0.88">·</tspan></text>
<text x="825" y="1086.06" font-family='"Liberation Sans", sans-serif' font-style="normal" letter-spacing="0.96" textLength="83.7" lengthAdjust="spacingAndGlyphs" stroke-linejoin="round" ><tspan font-size="23.44" font-weight="bold" stroke="#000" stroke-width="0.88">·</tspan><tspan font-size="23.44" font-weight="bold" stroke="#000" stroke-width="0.88">1919</tspan><tspan font-size="23.44" font-weight="bold" stroke="#000" stroke-width="0.88">·</tspan></text>
<text x="994" y="1085.73" font-family='"Liberation Sans", sans-serif' font-style="normal" letter-spacing="0.91" textLength="83.0" lengthAdjust="spacingAndGlyphs" stroke-linejoin="round" ><tspan font-size="23.44" font-weight="bold" stroke="#000" stroke-width="0.88">·</tspan><tspan font-size="23.44" font-weight="bold" stroke="#000" stroke-width="0.88">1920</tspan><tspan font-size="23.44" font-weight="bold" stroke="#000" stroke-width="0.88">·</tspan></text>
<text x="1152.8" y="1085.39" font-family='"Liberation Sans", sans-serif' font-style="normal" letter-spacing="0.81" textLength="81.2" lengthAdjust="spacingAndGlyphs" stroke-linejoin="round" ><tspan font-size="23.44" font-weight="bold" stroke="#000" stroke-width="0.88">·</tspan><tspan font-size="23.44" font-weight="bold" stroke="#000" stroke-width="0.88">1921</tspan><tspan font-size="23.44" font-weight="bold" stroke="#000" stroke-width="0.88">·</tspan></text>
<text x="1319" y="1085.06" font-family='"Liberation Sans", sans-serif' font-style="normal" letter-spacing="0.79" textLength="81.0" lengthAdjust="spacingAndGlyphs" stroke-linejoin="round" ><tspan font-size="23.44" font-weight="bold" stroke="#000" stroke-width="0.88">·</tspan><tspan font-size="23.44" font-weight="bold" stroke="#000" stroke-width="0.88">1922</tspan><tspan font-size="23.44" font-weight="bold" stroke="#000" stroke-width="0.88">·</tspan></text>
<text x="1485.6" y="1084.73" font-family='"Liberation Sans", sans-serif' font-style="normal" letter-spacing="1.17" textLength="87.2" lengthAdjust="spacingAndGlyphs" stroke-linejoin="round" ><tspan font-size="23.44" font-weight="bold" stroke="#000" stroke-width="0.88">·</tspan><tspan font-size="23.44" font-weight="bold" stroke="#000" stroke-width="0.88">1923</tspan><tspan font-size="23.44" font-weight="bold" stroke="#000" stroke-width="0.88">·</tspan></text>
<text x="1652" y="1084.39" font-family='"Liberation Sans", sans-serif' font-style="normal" letter-spacing="1.63" textLength="95.0" lengthAdjust="spacingAndGlyphs" stroke-linejoin="round" ><tspan font-size="23.44" font-weight="bold" stroke="#000" stroke-width="0.88">·</tspan><tspan font-size="23.44" font-weight="bold" stroke="#000" stroke-width="0.88">1924</tspan><tspan font-size="23.44" font-weight="bold" stroke="#000" stroke-width="0.88">·</tspan></text>
<text x="1816" y="1084.06" font-family='"Liberation Sans", sans-serif' font-style="normal" letter-spacing="0.94" textLength="83.5" lengthAdjust="spacingAndGlyphs" stroke-linejoin="round" ><tspan font-size="23.44" font-weight="bold" stroke="#000" stroke-width="0.88">·</tspan><tspan font-size="23.44" font-weight="bold" stroke="#000" stroke-width="0.88">1925</tspan><tspan font-size="23.44" font-weight="bold" stroke="#000" stroke-width="0.88">·</tspan></text>
<rect x="1248.2" y="501.2" width="65.20000000000005" height="42.19999999999999" fill="#fff"/>
<rect x="1248.2" y="543.4" width="65.20000000000005" height="44.0" fill="#000"/>
<rect x="1248.2" y="501.2" width="65.20000000000005" height="3" fill="#000"/>
<rect x="1248.2" y="501.2" width="3" height="42.19999999999999" fill="#000"/>
<rect x="1310.4" y="501.2" width="3" height="42.19999999999999" fill="#000"/>
<line x1="1248.2" y1="507.5" x2="1313.4" y2="507.5" stroke="#000" stroke-width="2.6"/>
<line x1="1248.2" y1="514.4" x2="1313.4" y2="514.4" stroke="#000" stroke-width="2.6"/>
<line x1="1248.2" y1="522.2" x2="1313.4" y2="522.2" stroke="#000" stroke-width="2.6"/>
<line x1="1248.2" y1="530" x2="1313.4" y2="530" stroke="#000" stroke-width="2.6"/>
<line x1="1248.2" y1="537.4" x2="1313.4" y2="537.4" stroke="#000" stroke-width="2.6"/>
<text x="1326" y="486.28" font-family='"Liberation Sans", sans-serif' font-style="normal" letter-spacing="2.16" textLength="139.0" lengthAdjust="spacingAndGlyphs" stroke-linejoin="round" ><tspan font-size="27.18" font-weight="bold" stroke="#000" stroke-width="0.03">L</tspan><tspan font-size="20.31" font-weight="bold" stroke="#000" stroke-width="1.03">EGEND.-</tspan></text>
<line x1="1320" y1="489.3" x2="1466.5" y2="489.3" stroke="#000" stroke-width="3"/>
<text x="1325" y="540.53" font-family='"Liberation Sans", sans-serif' font-style="normal" letter-spacing="2.39" textLength="236.5" lengthAdjust="spacingAndGlyphs" stroke-linejoin="round" ><tspan font-size="34.96" font-weight="normal" stroke="#000" stroke-width="0.95">C</tspan><tspan font-size="22.71" font-weight="bold" stroke="#000" stroke-width="0.88">ASH </tspan><tspan font-size="34.96" font-weight="normal" stroke="#000" stroke-width="0.95">C</tspan><tspan font-size="22.71" font-weight="bold" stroke="#000" stroke-width="0.88">ROPS·</tspan></text>
<text x="1321" y="583.33" font-family='"Liberation Sans", sans-serif' font-style="normal" letter-spacing="0.78" textLength="320.0" lengthAdjust="spacingAndGlyphs" stroke-linejoin="round" ><tspan font-size="34.96" font-weight="normal" stroke="#000" stroke-width="0.95">L</tspan><tspan font-size="23.63" font-weight="bold" stroke="#000" stroke-width="0.75">IVESTOCK </tspan><tspan font-size="34.96" font-weight="normal" stroke="#000" stroke-width="0.95">P</tspan><tspan font-size="23.63" font-weight="bold" stroke="#000" stroke-width="0.75">RODUCTS</tspan></text>
<text x="250" y="1149.21" font-family='"Liberation Serif", serif' font-size="31" stroke="#000" stroke-width="0.7" letter-spacing="1.38" textLength="81.5" lengthAdjust="spacingAndGlyphs" >There</text>
<text x="348" y="1148.94" font-family='"Liberation Serif", serif' font-size="31" stroke="#000" stroke-width="0.7" letter-spacing="2.51" textLength="49.7" lengthAdjust="spacingAndGlyphs" >has</text>
<text x="415.6" y="1148.76" font-family='"Liberation Serif", serif' font-size="31" stroke="#000" stroke-width="0.7" letter-spacing="1.38" textLength="65.4" lengthAdjust="spacingAndGlyphs" >been</text>
<text x="497" y="1148.54" font-family='"Liberation Serif", serif' font-size="31" stroke="#000" stroke-width="0.7" textLength="18.0" lengthAdjust="spacingAndGlyphs" >a</text>
<text x="532.7" y="1148.44" font-family='"Liberation Serif", serif' font-size="31" stroke="#000" stroke-width="0.7" letter-spacing="1.81" textLength="111.1" lengthAdjust="spacingAndGlyphs" >gradual</text>
<text x="661.6" y="1148.09" font-family='"Liberation Serif", serif' font-size="31" stroke="#000" stroke-width="0.7" letter-spacing="1.15" textLength="184.4" lengthAdjust="spacingAndGlyphs" >improvement</text>
<text x="864" y="1147.55" font-family='"Liberation Serif", serif' font-size="31" stroke="#000" stroke-width="0.7" letter-spacing="2.33" textLength="28.0" lengthAdjust="spacingAndGlyphs" >in</text>
<text x="909.6" y="1147.42" font-family='"Liberation Serif", serif' font-size="31" stroke="#000" stroke-width="0.7" letter-spacing="2.26" textLength="45.4" lengthAdjust="spacingAndGlyphs" >the</text>
<text x="973" y="1147.25" font-family='"Liberation Serif", serif' font-size="31" stroke="#000" stroke-width="0.7" letter-spacing="1.81" textLength="77.5" lengthAdjust="spacingAndGlyphs" >gross</text>
<text x="1068.4" y="1147.00" font-family='"Liberation Serif", serif' font-size="31" stroke="#000" stroke-width="0.7" letter-spacing="1.24" textLength="101.6" lengthAdjust="spacingAndGlyphs" >income</text>
<text x="1186" y="1146.68" font-family='"Liberation Serif", serif' font-size="31" stroke="#000" stroke-width="0.7" letter-spacing="4.13" textLength="32.7" lengthAdjust="spacingAndGlyphs" >of</text>
<text x="1233" y="1146.55" font-family='"Liberation Serif", serif' font-size="31" stroke="#000" stroke-width="0.7" letter-spacing="0.98" textLength="144.0" lengthAdjust="spacingAndGlyphs" >Wisconsin</text>
<text x="1393" y="1146.12" font-family='"Liberation Serif", serif' font-size="31" stroke="#000" stroke-width="0.7" letter-spacing="2.22" textLength="85.4" lengthAdjust="spacingAndGlyphs" >farms</text>
<text x="1496.7" y="1145.84" font-family='"Liberation Serif", serif' font-size="31" stroke="#000" stroke-width="0.7" letter-spacing="0.80" textLength="69.0" lengthAdjust="spacingAndGlyphs" >since</text>
<text x="1584" y="1145.60" font-family='"Liberation Serif", serif' font-size="31" stroke="#000" stroke-width="0.7" letter-spacing="0.49" textLength="73.0" lengthAdjust="spacingAndGlyphs" >1921,</text>
<text x="1673" y="1145.36" font-family='"Liberation Serif", serif' font-size="31" stroke="#000" stroke-width="0.7" letter-spacing="1.48" textLength="124.0" lengthAdjust="spacingAndGlyphs" >reaching</text>
<text x="1815" y="1144.98" font-family='"Liberation Serif", serif' font-size="31" stroke="#000" stroke-width="0.7" letter-spacing="2.74" textLength="47.0" lengthAdjust="spacingAndGlyphs" >the</text>
<text x="1878" y="1144.81" font-family='"Liberation Serif", serif' font-size="31" stroke="#000" stroke-width="0.7" letter-spacing="1.90" textLength="101.6" lengthAdjust="spacingAndGlyphs" >largest</text>
<text x="641.8" y="1176.97" font-family='"Liberation Serif", serif' font-size="31" stroke="#000" stroke-width="0.7" letter-spacing="1.71" textLength="107.2" lengthAdjust="spacingAndGlyphs" >amount</text>
<text x="761" y="1176.61" font-family='"Liberation Serif", serif' font-size="31" stroke="#000" stroke-width="0.7" letter-spacing="2.09" textLength="27.6" lengthAdjust="spacingAndGlyphs" >in</text>
<text x="800.5" y="1176.50" font-family='"Liberation Serif", serif' font-size="31" stroke="#000" stroke-width="0.7" letter-spacing="1.50" textLength="69.5" lengthAdjust="spacingAndGlyphs" >1925</text>
<text x="876" y="1176.27" font-family='"Liberation Serif", serif' font-size="31" stroke="#000" stroke-width="0.7" letter-spacing="1.42" textLength="49.5" lengthAdjust="spacingAndGlyphs" >due</text>
<text x="939.4" y="1176.08" font-family='"Liberation Serif", serif' font-size="31" stroke="#000" stroke-width="0.7" letter-spacing="3.29" textLength="29.6" lengthAdjust="spacingAndGlyphs" >to</text>
<text x="979" y="1175.96" font-family='"Liberation Serif", serif' font-size="31" stroke="#000" stroke-width="0.7" letter-spacing="1.97" textLength="87.0" lengthAdjust="spacingAndGlyphs" >better</text>
<text x="1080" y="1175.66" font-family='"Liberation Serif", serif' font-size="31" stroke="#000" stroke-width="0.7" letter-spacing="1.44" textLength="86.0" lengthAdjust="spacingAndGlyphs" >prices</text>
<text x="1176" y="1175.37" font-family='"Liberation Serif", serif' font-size="31" stroke="#000" stroke-width="0.7" letter-spacing="2.57" textLength="44.7" lengthAdjust="spacingAndGlyphs" >for</text>
<text x="1233" y="1175.20" font-family='"Liberation Serif", serif' font-size="31" stroke="#000" stroke-width="0.7" letter-spacing="1.42" textLength="130.0" lengthAdjust="spacingAndGlyphs" >potatoes,</text>
<text x="1369" y="1174.79" font-family='"Liberation Serif", serif' font-size="31" stroke="#000" stroke-width="0.7" letter-spacing="1.63" textLength="65.0" lengthAdjust="spacingAndGlyphs" >milk</text>
<text x="1448" y="1174.55" font-family='"Liberation Serif", serif' font-size="31" stroke="#000" stroke-width="0.7" letter-spacing="1.18" textLength="48.7" lengthAdjust="spacingAndGlyphs" >and</text>
<text x="1509" y="1174.37" font-family='"Liberation Serif", serif' font-size="31" stroke="#000" stroke-width="0.7" letter-spacing="1.30" textLength="75.0" lengthAdjust="spacingAndGlyphs" >hogs.</text>
<text transform="translate(2039.5,247.5) rotate(90)" x="0" y="0" font-family='"Liberation Serif", serif' font-size="39" stroke="#000" stroke-width="0.9" textLength="55" lengthAdjust="spacingAndGlyphs">288</text>
<text transform="translate(2039,543) rotate(90)" x="0" y="0" font-family='"Liberation Serif", serif' font-size="34" stroke="#000" stroke-width="0.6" textLength="414" lengthAdjust="spacingAndGlyphs">WISCONSIN BLUE BOOK</text>
</svg>
</body></html>
